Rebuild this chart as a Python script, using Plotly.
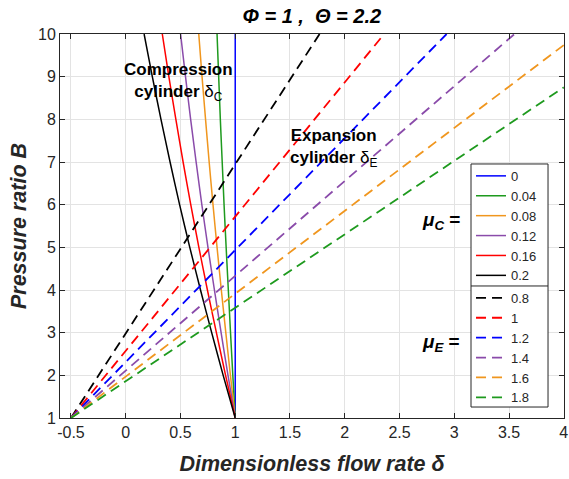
import plotly.graph_objects as go

# ---------------- data ----------------
B_levels = [1, 2, 3, 4, 5, 6, 7, 8, 9, 10]

mu_C_labels = ["0", "0.04", "0.08", "0.12", "0.16", "0.2"]
delta_C = [
    [1.0, 1.0, 1.0, 1.0, 1.0, 1.0, 1.0, 1.0, 1.0, 1.0],
    [1.0, 0.978, 0.957, 0.937, 0.917, 0.898, 0.881, 0.864, 0.849, 0.834],
    [1.0, 0.956, 0.914, 0.873, 0.834, 0.797, 0.762, 0.729, 0.697, 0.667],
    [1.0, 0.934, 0.871, 0.810, 0.751, 0.695, 0.643, 0.593, 0.546, 0.501],
    [1.0, 0.912, 0.828, 0.746, 0.668, 0.594, 0.524, 0.458, 0.394, 0.334],
    [1.0, 0.890, 0.785, 0.683, 0.585, 0.492, 0.405, 0.322, 0.243, 0.168],
]

mu_E_labels = ["0.8", "1", "1.2", "1.4", "1.6", "1.8"]
delta_E_start = [-0.5, -0.5, -0.5, -0.5, -0.5, -0.5]
B_E_start = [1, 1, 1, 1, 1, 1]
delta_E_end = [1.77, 2.36, 2.93, 3.55, 4.0, 4.0]
B_E_end = [10, 10, 10, 10, 9.74, 8.75]

colors = ["#0000FF", "#1E9A1E", "#F0961E", "#8A4BAA", "#FF0000", "#000000"]
colors_E = ["#000000", "#FF0000", "#0000FF", "#8A4BAA", "#F0961E", "#1E9A1E"]

x_ticks = [-0.5, 0, 0.5, 1, 1.5, 2, 2.5, 3, 3.5, 4]
x_tick_text = ["-0.5", "0", "0.5", "1", "1.5", "2", "2.5", "3", "3.5", "4"]
y_ticks = [1, 2, 3, 4, 5, 6, 7, 8, 9, 10]

FONT = "Liberation Sans, Arial, sans-serif"
AX = "#262626"

fig = go.Figure()

for lab, d, c in zip(mu_C_labels, delta_C, colors):
    fig.add_trace(go.Scatter(
        x=d, y=B_levels, mode="lines", name=lab,
        line=dict(color=c, width=1.5, shape="spline", smoothing=0.6),
        legend="legend",
    ))

for lab, x0, y0, x1, y1, c in zip(mu_E_labels, delta_E_start, B_E_start,
                                   delta_E_end, B_E_end, colors_E):
    fig.add_trace(go.Scatter(
        x=[x0, x1], y=[y0, y1], mode="lines", name=lab,
        line=dict(color=c, width=1.8, dash="10px,6px"), legend="legend2",
    ))

# legend frame (one box split in two)
lx0, lx1 = 0.8155, 0.9683
ytop, ymid, ybot = 0.6615, 0.3438, 0.0286
fig.add_shape(type="rect", xref="paper", yref="paper",
              x0=lx0, x1=lx1, y0=ybot, y1=ytop,
              line=dict(color=AX, width=1), fillcolor="white", layer="above")
fig.add_shape(type="line", xref="paper", yref="paper",
              x0=lx0, x1=lx1, y0=ymid, y1=ymid,
              line=dict(color=AX, width=1), layer="above")

legend_common = dict(
    xref="paper", yref="paper", xanchor="left", yanchor="top",
    bgcolor="rgba(0,0,0,0)", borderwidth=0,
    font=dict(family=FONT, size=13, color=AX),
    tracegroupgap=0, itemwidth=30,
)

fig.update_layout(
    width=569, height=479,
    margin=dict(l=60, r=5, t=34, b=61, autoexpand=False),
    paper_bgcolor="white", plot_bgcolor="white",
    font=dict(family=FONT, color=AX),
    title=dict(text="<b><i>Φ = 1 ,  Θ = 2.2</i></b>", x=0.548, xref="container",
               xanchor="center", y=0.967, yanchor="middle",
               font=dict(family=FONT, size=20, color="black")),
    legend=dict(x=lx0, y=ytop + 0.008, **legend_common),
    legend2=dict(x=lx0, y=ymid + 0.008, **legend_common),
    showlegend=True,
)

fig.update_xaxes(
    range=[-0.6, 4.002], tickvals=x_ticks, ticktext=x_tick_text,
    showgrid=True, gridcolor="#E3E3E3", gridwidth=1, zeroline=False,
    showline=True, linecolor=AX, linewidth=1, mirror="ticks",
    ticks="inside", ticklen=5, tickcolor=AX, automargin=False,
    ticklabeloverflow="allow",
    tickfont=dict(family=FONT, size=16, color=AX),
    title=dict(text="<b><i>Dimensionless flow rate δ</i></b>",
               font=dict(family=FONT, size=21.5, color=AX), standoff=15),
)
fig.update_yaxes(
    range=[1, 10], tickvals=y_ticks,
    showgrid=True, gridcolor="#E3E3E3", gridwidth=1, zeroline=False,
    showline=True, linecolor=AX, linewidth=1, mirror="ticks",
    ticks="inside", ticklen=5, tickcolor=AX, automargin=False,
    ticklabeloverflow="allow",
    tickfont=dict(family=FONT, size=16, color=AX),
    title=dict(text="<b><i>Pressure ratio B</i></b>",
               font=dict(family=FONT, size=21.5, color=AX), standoff=5),
)

ann_font = dict(family=FONT, size=17, color="black")
fig.add_annotation(x=0.48, y=8.88, xref="x", yref="y", showarrow=False,
                   text="<b>Compression<br>cylinder </b>δ<sub>C</sub>",
                   font=ann_font, align="center")
fig.add_annotation(x=1.90, y=7.33, xref="x", yref="y", showarrow=False,
                   text="<b>Expansion<br>cylinder </b>δ<sub>E</sub>",
                   font=ann_font, align="center")
fig.add_annotation(x=0.798, y=0.513, xref="paper", yref="paper", showarrow=False,
                   xanchor="right", yanchor="middle",
                   text="<b><i>μ<sub>C</sub></i> =</b>",
                   font=dict(family=FONT, size=19, color="black"))
fig.add_annotation(x=0.798, y=0.195, xref="paper", yref="paper", showarrow=False,
                   xanchor="right", yanchor="middle",
                   text="<b><i>μ<sub>E</sub></i> =</b>",
                   font=dict(family=FONT, size=19, color="black"))

# remove the default page margin so the 569x479 figure fills the window exactly
fig.write_html(
    "out.html",
    config={"displayModeBar": False},
    post_script="document.body.style.margin='0';document.body.style.overflow='hidden';",
)
